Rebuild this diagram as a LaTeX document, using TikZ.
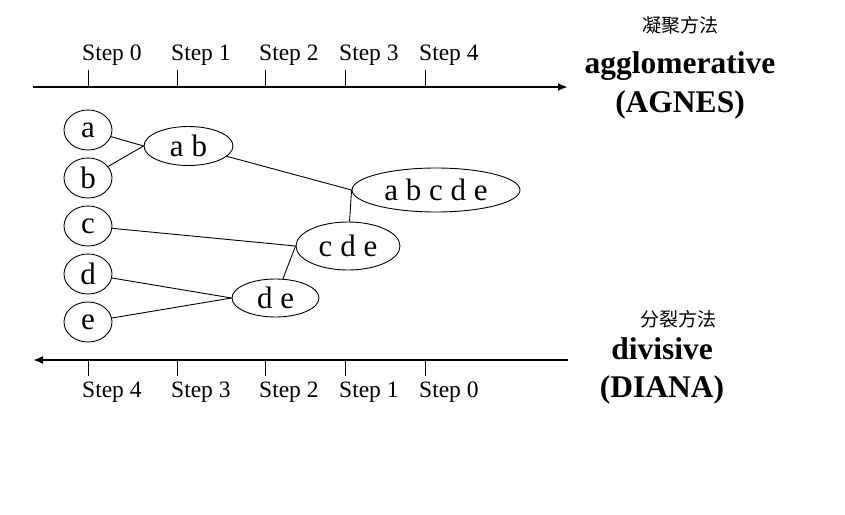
\documentclass[tikz,border=0pt]{standalone}
\usepackage{fontspec}
\setmainfont{Liberation Serif}
\newfontfamily\cjk{Noto Sans CJK SC}
\usetikzlibrary{shapes.geometric,arrows.meta}
\begin{document}
\begin{tikzpicture}[x=1pt,y=-1pt,
 cl/.style={ellipse,draw,line width=0.9pt,inner sep=0pt,font=\fontsize{31}{33}\selectfont},
 link/.style={line width=0.9pt},
 axis/.style={line width=2pt},
 tickmark/.style={line width=1pt},
 steplbl/.style={inner sep=0pt,anchor=base west,font=\fontsize{23.5}{25}\selectfont},
 title/.style={inner sep=0pt,anchor=base,font=\bfseries\fontsize{31.5}{33}\selectfont},
 cn/.style={inner sep=0pt,font=\cjk\fontsize{19}{21}\selectfont}]
\useasboundingbox (0,0) rectangle (845,514);
% top axis
\coordinate (ta) at (33,87);
\coordinate (tb) at (568,87);
\draw[axis,-{Latex[length=10pt,width=8pt]}] (ta) -- (tb);
\foreach \x/\n in {88/0,177/1,265/2,345/3,425/4}{
  \draw[tickmark] (\x,70) -- (\x,87);
  \node[steplbl] (ts\n) at (\x-6,60) {Step \n};
}
% bottom axis
\coordinate (ba) at (568,360);
\coordinate (bb) at (33,360);
\draw[axis,-{Latex[length=10pt,width=8pt]}] (ba) -- (bb);
\foreach \x/\n in {88/4,177/3,265/2,345/1,425/0}{
  \draw[tickmark] (\x,360) -- (\x,376);
  \node[steplbl] (bs\n) at (\x-6,397) {Step \n};
}
% titles
\node[cn] (cn1) at (680,25) {凝聚方法};
\node[title] (agg) at (680,73) {agglomerative};
\node[title] (agnes) at (680,112) {(AGNES)};
\node[cn] (cn2) at (678,319) {分裂方法};
\node[title] (div) at (662,359) {divisive};
\node[title] (diana) at (662,397) {(DIANA)};
% clusters
\node[cl,minimum width=48pt,minimum height=40pt] (a) at (88,130) {a};
\node[cl,minimum width=48pt,minimum height=40pt] (b) at (88,178) {b};
\node[cl,minimum width=48pt,minimum height=40pt] (c) at (88,226) {c};
\node[cl,minimum width=48pt,minimum height=40pt] (d) at (88,274) {d};
\node[cl,minimum width=48pt,minimum height=40pt] (e) at (88,322) {e};
\node[cl,minimum width=89pt,minimum height=39pt] (ab) at (188.5,146) {a b};
\node[cl,minimum width=87pt,minimum height=38pt] (de) at (275.5,298) {d e};
\node[cl,minimum width=104pt,minimum height=48pt] (cde) at (348,246) {c d e};
\node[cl,minimum width=168pt,minimum height=44pt] (abcde) at (436,190) {a b c d e};
% links
\draw[link] (a) -- (ab.west);
\draw[link] (b) -- (ab.west);
\draw[link] (ab) -- (abcde.west);
\draw[link] (cde) -- (abcde.west);
\draw[link] (c) -- (cde.west);
\draw[link] (d) -- (de.west);
\draw[link] (e) -- (de.west);
\draw[link] (de) -- (cde.west);
\end{tikzpicture}
\end{document}
